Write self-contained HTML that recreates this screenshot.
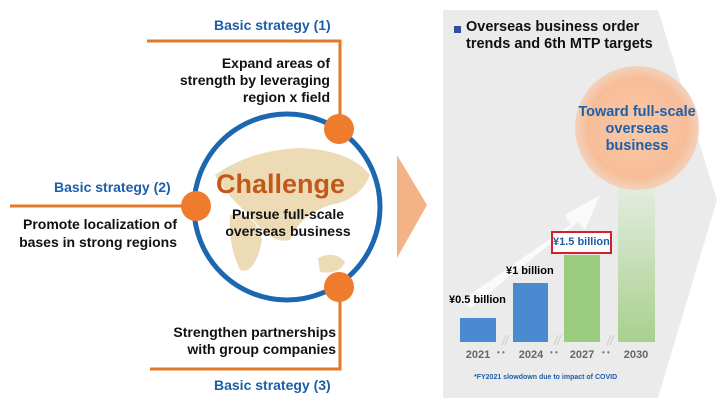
<!DOCTYPE html>
<html><head><style>
body{margin:0;width:720px;height:404px;background:#fff;font-family:"Liberation Sans",sans-serif;overflow:hidden;position:relative}
.t{position:absolute;font-weight:bold;white-space:nowrap}
.b{color:#1f5ea8;font-size:14px}
.k{color:#111;font-size:14px;line-height:17px}
.y{position:absolute;top:349px;font-size:11px;color:#666;font-weight:bold;width:40px;text-align:center}
.d{position:absolute;top:348px;font-size:8px;color:#777;font-weight:bold}
</style></head><body>
<svg width="720" height="404" style="position:absolute;left:0;top:0">
<defs>
<radialGradient id="og" cx="50%" cy="50%" r="50%"><stop offset="0" stop-color="#f9c9a8"/><stop offset="0.8" stop-color="#f7bd98"/><stop offset="1" stop-color="#f3d2bc"/></radialGradient>
<linearGradient id="gg" x1="0" y1="0" x2="0" y2="1"><stop offset="0" stop-color="#e4ede0"/><stop offset="1" stop-color="#a8d08e"/></linearGradient>
</defs>
<polygon points="443,10 658,10 717,200 658,398 443,398" fill="#ebebeb"/>
<polygon points="397,155 427,205 397,258" fill="#f4b386"/>
<path d="M147,41 H340 V129" stroke="#e07a2a" stroke-width="3" fill="none"/>
<path d="M10,206 H196" stroke="#e07a2a" stroke-width="3" fill="none"/>
<path d="M150,369 H340 V287" stroke="#e07a2a" stroke-width="3" fill="none"/>
<circle cx="287" cy="207" r="93" fill="#fff" stroke="#1c67b0" stroke-width="5"/>
<path d="M215,175 Q250,150 300,148 Q350,150 370,175 Q360,200 330,205 Q300,215 290,240 Q270,245 250,215 Q230,200 215,175Z" fill="#e8d2a2" opacity="0.8"/>
<path d="M230,215 Q255,210 262,240 Q255,275 240,270 Q228,245 230,215Z" fill="#e8d2a2" opacity="0.8"/>
<path d="M318,258 Q335,250 345,262 Q340,275 320,272Z" fill="#e8d2a2" opacity="0.8"/>
<circle cx="339" cy="129" r="15" fill="#ef7b2c"/>
<circle cx="196" cy="206" r="15" fill="#ef7b2c"/>
<circle cx="339" cy="287" r="15" fill="#ef7b2c"/>
<path d="M462,300 L570,225 L565,215 L600,195 L585,230 L578,222 L470,308Z" fill="#fafafa"/>
<rect x="618" y="185" width="37" height="157" fill="url(#gg)"/>
<circle cx="637" cy="128" r="62" fill="url(#og)"/>
<rect x="460" y="318" width="36" height="24" fill="#4a8ad0"/>
<rect x="513" y="283" width="35" height="59" fill="#4a8ad0"/>
<rect x="564" y="255" width="36" height="87" fill="#9acb7e"/>
<rect x="552" y="232" width="59" height="21" fill="#fff" stroke="#d5202b" stroke-width="2"/>
<rect x="454" y="26" width="7" height="7" fill="#2d4f9c"/>
<g stroke="#ccc" stroke-width="1"><path d="M502,345 L506,335 M505,345 L509,335 M554,345 L558,335 M557,345 L561,335 M607,345 L611,335 M610,345 L614,335"/></g>
</svg>
<div class="t b" style="left:214px;top:17px">Basic strategy (1)</div>
<div class="t k" style="left:170px;top:55px;width:160px;text-align:right">Expand areas of<br>strength by leveraging<br>region x field</div>
<div class="t b" style="left:54px;top:179px">Basic strategy (2)</div>
<div class="t k" style="left:10px;top:215px;line-height:18px;width:167px;text-align:right">Promote localization of<br>bases in strong regions</div>
<div class="t" style="left:216px;top:169px;color:#c2581a;font-size:27px">Challenge</div>
<div class="t k" style="left:220px;top:206px;width:136px;text-align:center">Pursue full-scale<br>overseas business</div>
<div class="t k" style="left:160px;top:324px;width:176px;text-align:right">Strengthen partnerships<br>with group companies</div>
<div class="t b" style="left:214px;top:377px">Basic strategy (3)</div>
<div class="t k" style="left:466px;top:19px;font-size:14.5px">Overseas business order<br>trends and 6th MTP targets</div>
<div class="t" style="left:572px;top:104px;width:130px;text-align:center;color:#1f5ea8;font-size:14.5px;line-height:17px">Toward full-scale<br>overseas<br>business</div>
<div class="t" style="left:449px;top:294px;font-size:11px">¥0.5 billion</div>
<div class="t" style="left:506px;top:265px;font-size:11px">¥1 billion</div>
<div class="t" style="left:553px;top:236px;font-size:11px;color:#1f5ea8">¥1.5 billion</div>
<div class="y" style="left:458px">2021</div><div class="d" style="left:497px">• •</div>
<div class="y" style="left:511px">2024</div><div class="d" style="left:550px">• •</div>
<div class="y" style="left:562px">2027</div><div class="d" style="left:602px">• •</div>
<div class="y" style="left:616px">2030</div>
<div class="t" style="left:474px;top:374px;font-size:7px;color:#1f5ea8">*FY2021 slowdown due to impact of COVID</div>
</body></html>
